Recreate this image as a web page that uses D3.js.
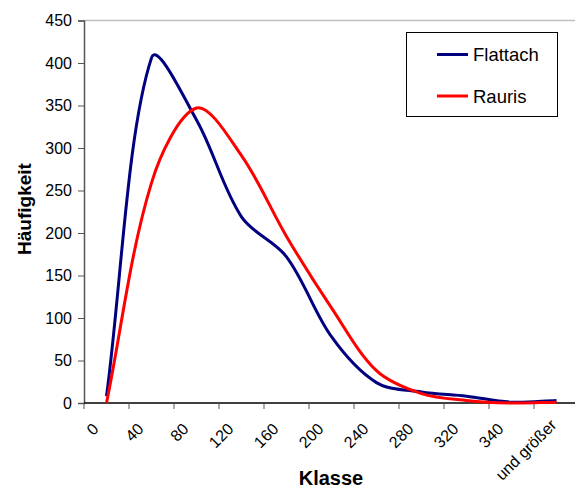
<!DOCTYPE html>
<html>
<head>
<meta charset="utf-8">
<script src="https://cdn.jsdelivr.net/npm/d3@7"></script>
<style>
  html, body { margin: 0; padding: 0; background: #fff; }
  svg { display: block; font-family: "Liberation Sans", Arial, sans-serif; }
</style>
</head>
<body>
<svg id="chart" width="575" height="488"></svg>
<script>
// Klassen (upper bin limits) shown along the category axis
const categories = ["0", "40", "80", "120", "160", "200", "240", "280", "320", "340", "und größer"];
// Frequencies per class for the two stations
const flattach = [8, 406, 333, 219, 172, 78, 24, 13, 8, 1, 3];
const rauris   = [0, 259, 347, 291, 196, 112, 38, 11, 3, 0, 1];
const yTicks = [0, 50, 100, 150, 200, 250, 300, 350, 400, 450];

const seriesList = [
  { name: "Flattach", values: flattach, color: "#000080" },
  { name: "Rauris",   values: rauris,   color: "#ff0000" }
];

// Smoothed line: cubic Bézier segments whose handles follow the
// neighbouring points, weighted by the lengths of the adjacent segments.
function SmoothCurve(context) { this._context = context; }
SmoothCurve.prototype = {
  areaStart() { this._line = 0; },
  areaEnd() { this._line = NaN; },
  lineStart() { this._pts = []; },
  point(px, py) { this._pts.push([+px, +py]); },
  lineEnd() {
    const p = this._pts, n = p.length, c = this._context;
    if (!n) return;
    c.moveTo(p[0][0], p[0][1]);
    const dist = (a, b) => Math.hypot(b[0] - a[0], b[1] - a[1]);
    for (let i = 0; i < n - 1; i++) {
      const p0 = p[Math.max(i - 1, 0)], p1 = p[i], p2 = p[i + 1], p3 = p[Math.min(i + 2, n - 1)];
      const d01 = dist(p0, p1), d12 = dist(p1, p2), d23 = dist(p2, p3);
      const fa = d12 / (d01 + d12 || 1) / 3;
      const fb = d12 / (d12 + d23 || 1) / 3;
      c.bezierCurveTo(
        p1[0] + (p2[0] - p0[0]) * fa, p1[1] + (p2[1] - p0[1]) * fa,
        p2[0] - (p3[0] - p1[0]) * fb, p2[1] - (p3[1] - p1[1]) * fb,
        p2[0], p2[1]);
    }
  }
};
const curveSmooth = context => new SmoothCurve(context);

const svg = d3.select("#chart");
const plotLeft = 84, plotTop = 20.5, plotBottom = 403, bandW = 45;
const plotRight = plotLeft + bandW * categories.length;

const x = d3.scaleBand().domain(categories).range([plotLeft, plotRight]);
const y = d3.scaleLinear().domain([0, 450]).range([plotBottom, plotTop]);

// plot area top edge
svg.append("line")
  .attr("x1", plotLeft).attr("x2", plotRight)
  .attr("y1", plotTop).attr("y2", plotTop)
  .attr("stroke", "#c0c0c0").attr("stroke-width", 1.5);

// value axis
const yAxis = svg.append("g")
  .attr("transform", `translate(${plotLeft},0)`)
  .call(d3.axisLeft(y).tickValues(yTicks).tickSize(6).tickPadding(6).tickFormat(d3.format("d")));
yAxis.select(".domain").attr("stroke", "#555").attr("stroke-width", 1.5);
yAxis.selectAll(".tick line").attr("stroke", "#555").attr("stroke-width", 1);
yAxis.selectAll(".tick text")
  .attr("font-size", 16).attr("fill", "#000")
  .attr("font-family", "Liberation Sans, Arial, sans-serif");

// category axis: tick marks sit between categories
const xAxis = svg.append("g").attr("transform", `translate(0,${plotBottom})`);
xAxis.append("line")
  .attr("x1", plotLeft).attr("x2", plotRight).attr("y1", 0).attr("y2", 0)
  .attr("stroke", "#000").attr("stroke-width", 1.5);
xAxis.selectAll("line.tick")
  .data(categories)
  .join("line")
  .attr("class", "tick")
  .attr("x1", d => x(d)).attr("x2", d => x(d))
  .attr("y1", 0).attr("y2", 6)
  .attr("stroke", "#555").attr("stroke-width", 1);
const lastCat = categories[categories.length - 1];
xAxis.selectAll("text")
  .data(categories)
  .join("text")
  .attr("transform", d => {
    const cx = x(d) + x.bandwidth() / 2;
    // the long closing label sits a little further right and higher
    return d === lastCat
      ? `translate(${cx + 1},${23}) rotate(-45)`
      : `translate(${cx - 7},${27}) rotate(-45)`;
  })
  .attr("text-anchor", "end")
  .attr("font-size", 16)
  .attr("fill", "#000")
  .text(d => d);

// smoothed lines
const line = d3.line()
  .x((d, i) => x(categories[i]) + x.bandwidth() / 2)
  .y(d => y(d))
  .curve(curveSmooth);

svg.append("g")
  .selectAll("path")
  .data(seriesList)
  .join("path")
  .attr("d", s => line(s.values))
  .attr("fill", "none")
  .attr("stroke", s => s.color)
  .attr("stroke-width", 3)
  .attr("stroke-linejoin", "round");

// axis titles
svg.append("text")
  .attr("x", 331).attr("y", 484.5)
  .attr("text-anchor", "middle")
  .attr("font-size", 20).attr("font-weight", "bold")
  .text("Klasse");
svg.append("text")
  .attr("transform", "translate(31,209) rotate(-90)")
  .attr("text-anchor", "middle")
  .attr("font-size", 19).attr("font-weight", "bold")
  .text("Häufigkeit");

// legend
const legend = svg.append("g");
legend.append("rect")
  .attr("x", 406.5).attr("y", 32.5).attr("width", 151).attr("height", 84)
  .attr("fill", "#fff").attr("stroke", "#000").attr("stroke-width", 1);
const items = legend.selectAll("g.item")
  .data(seriesList)
  .join("g")
  .attr("class", "item")
  .attr("transform", (d, i) => `translate(0,${54.5 + i * 41.5})`);
items.append("line")
  .attr("x1", 437).attr("x2", 468).attr("y1", 0).attr("y2", 0)
  .attr("stroke", d => d.color).attr("stroke-width", 3);
items.append("text")
  .attr("x", 473).attr("y", 6.5)
  .attr("font-size", 18.5).attr("fill", "#000")
  .text(d => d.name);
</script>
</body>
</html>
